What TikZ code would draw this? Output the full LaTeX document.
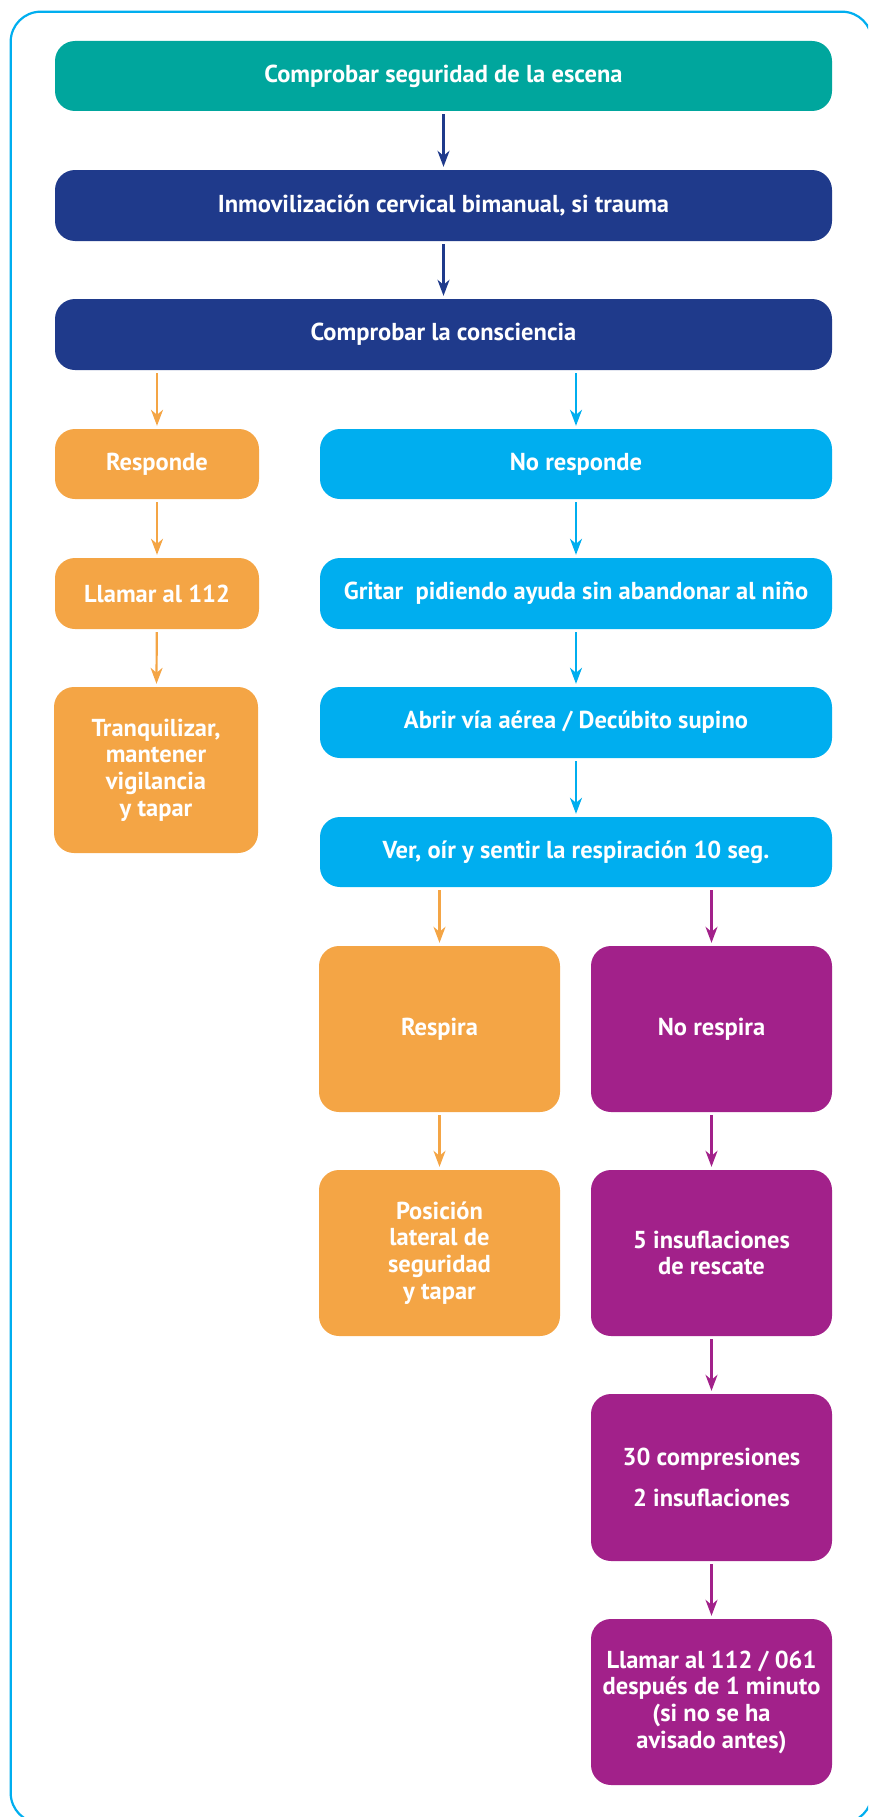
\documentclass[tikz,border=0pt]{standalone}
\usepackage{fontspec}
\setmainfont{PT Sans}
\usetikzlibrary{arrows.meta}
\definecolor{teal1}{HTML}{00A69D}
\definecolor{navy1}{HTML}{1F3A8B}
\definecolor{cyan1}{HTML}{00AEEF}
\definecolor{orange1}{HTML}{F4A545}
\definecolor{purple1}{HTML}{A2218A}
\tikzset{
  box/.style={rectangle, rounded corners=20pt, inner sep=0pt, text=white,
    align=center, font=\fontsize{24.5}{26.7}\selectfont\bfseries},
  tealbox/.style={box, fill=teal1},
  navybox/.style={box, fill=navy1},
  cyanbox/.style={box, fill=cyan1},
  orangebox/.style={box, fill=orange1},
  purplebox/.style={box, fill=purple1},
  conn/.style={line width=2.2pt, shorten <=3pt, shorten >=3pt,
    -{Stealth[length=16pt,width=12pt,inset=5pt]}},
}
\begin{document}
\begin{tikzpicture}[x=1pt,y=-1pt]
\clip (0,0) rectangle (868,1817);
\useasboundingbox (0,0) rectangle (868,1817);
\draw[cyan1, line width=2.2pt, rounded corners=30pt] (10.7,11.7) rectangle (872,1823);

\node[tealbox, minimum width=777pt, minimum height=70pt] (b1) at (443.5,76) {Comprobar seguridad de la escena};
\node[navybox, minimum width=777pt, minimum height=71pt] (b2) at (443.5,205.5) {Inmovilización cervical bimanual, si trauma};
\node[navybox, minimum width=777pt, minimum height=71pt] (b3) at (443.5,334.5) {Comprobar la consciencia};

\node[orangebox, minimum width=204pt, minimum height=70pt] (resp) at (157,464) {Responde};
\node[cyanbox, minimum width=512pt, minimum height=70pt] (nores) at (576,464) {No responde};
\node[orangebox, minimum width=204pt, minimum height=71pt] (llamar) at (157,593.5) {Llamar al 112};
\node[cyanbox, minimum width=512pt, minimum height=71pt] (gritar) at (576,593.5) {Gritar\ \ pidiendo ayuda sin abandonar al niño};
\node[orangebox, minimum width=204pt, minimum height=166pt] (tranq) at (156,770) {Tranquilizar,\\mantener\\vigilancia\\y tapar};
\node[cyanbox, minimum width=512pt, minimum height=71pt] (abrir) at (576,722.5) {Abrir vía aérea / Decúbito supino};
\node[cyanbox, minimum width=512pt, minimum height=70pt] (ver) at (576,852) {Ver, oír y sentir la respiración 10 seg.};

\node[orangebox, minimum width=241pt, minimum height=166pt] (respira) at (439.5,1029) {Respira};
\node[purplebox, minimum width=241pt, minimum height=166pt] (norespira) at (711.5,1029) {No respira};
\node[orangebox, minimum width=241pt, minimum height=166pt] (pos) at (439.5,1253) {Posición\\lateral de\\seguridad\\y tapar};
\node[purplebox, minimum width=241pt, minimum height=166pt] (ins) at (711.5,1253) {5 insuflaciones\\de rescate};
\node[purplebox, minimum width=241pt, minimum height=167pt] (comp) at (711.5,1477.5) {30 compresiones\\[14pt]2 insuflaciones};
\node[purplebox, minimum width=241pt, minimum height=166pt] (llam2) at (711.5,1702) {Llamar al 112 / 061\\después de 1 minuto\\(si no se ha\\avisado antes)};

\draw[conn, navy1] (b1) -- (b2);
\draw[conn, navy1] (b2) -- (b3);
\draw[conn, orange1] (b3.south -| resp.north) -- (resp.north);
\draw[conn, cyan1] (b3.south -| nores.north) -- (nores.north);
\draw[conn, orange1] (resp) -- (llamar);
\draw[conn, orange1] (llamar) -- (tranq);
\draw[conn, cyan1] (nores) -- (gritar);
\draw[conn, cyan1] (gritar) -- (abrir);
\draw[conn, cyan1] (abrir) -- (ver);
\draw[conn, orange1] (ver.south -| respira.north) -- (respira.north);
\draw[conn, purple1] (ver.south -| norespira.north) -- (norespira.north);
\draw[conn, orange1] (respira) -- (pos);
\draw[conn, purple1] (norespira) -- (ins);
\draw[conn, purple1] (ins) -- (comp);
\draw[conn, purple1] (comp) -- (llam2);
\end{tikzpicture}
\end{document}
